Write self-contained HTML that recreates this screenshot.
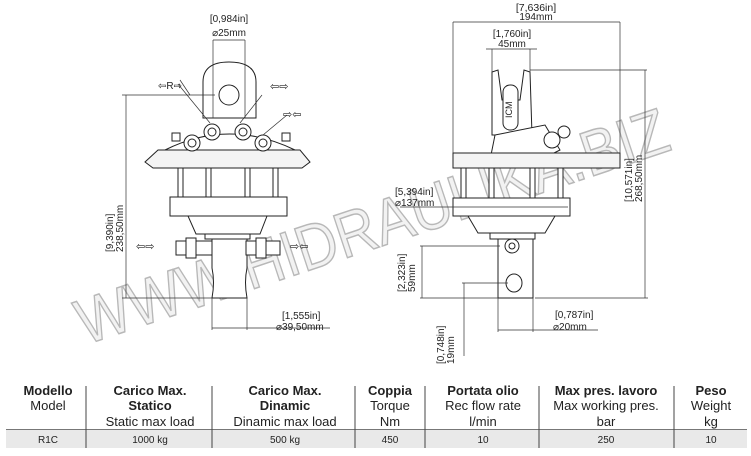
<!DOCTYPE html>
<html><head><meta charset="utf-8"><style>
body{margin:0;background:#fff;width:751px;height:456px;overflow:hidden;font-family:"Liberation Sans",sans-serif;}
svg{position:absolute;left:0;top:0}
</style></head><body>
<svg width="751" height="456" viewBox="0 0 751 456" font-family="Liberation Sans, sans-serif">
<text x="85" y="345" transform="rotate(-18.4 85 345)" font-size="64" textLength="620" lengthAdjust="spacingAndGlyphs" fill="#f2f2f2" stroke="#b8b8b8" stroke-width="1.5">WWW.HIDRAULIKA.BIZ</text>

<g stroke="#222" stroke-width="1" fill="#fff">
<path d="M203,118 L203,82 Q203,62 229,62 Q256,62 256,82 L256,118 Z"/>
<circle cx="229" cy="95" r="10"/>
<path d="M158,150 L300,150 L310,162 L302,168 L153,168 L145,162 Z" fill="#f4f4f4"/>
<path d="M165,150 Q229,118 295,150" fill="none"/>
<circle cx="192" cy="143" r="8"/><circle cx="192" cy="143" r="4"/>
<circle cx="212" cy="132" r="8"/><circle cx="212" cy="132" r="4"/>
<circle cx="243" cy="132" r="8"/><circle cx="243" cy="132" r="4"/>
<circle cx="263" cy="143" r="8"/><circle cx="263" cy="143" r="4"/>
<rect x="172" y="133" width="8" height="8"/><rect x="282" y="133" width="8" height="8"/>
<rect x="178" y="168" width="5" height="29"/><rect x="206" y="168" width="5" height="29"/>
<rect x="245" y="168" width="5" height="29"/><rect x="273" y="168" width="5" height="29"/>
<rect x="170" y="197" width="117" height="19"/>
<path d="M188,216 L267,216 L260,234 L196,234 Z"/>
<rect x="205" y="234" width="45" height="5"/>
<path d="M212,239 L247,239 L247,268 Q244,282 247,298 L212,298 Q215,282 212,268 Z"/>
<rect x="176" y="241" width="36" height="14"/><rect x="246" y="241" width="34" height="14"/>
<rect x="186" y="238" width="10" height="20"/><rect x="256" y="238" width="10" height="20"/>
<path d="M492,135 L492,72 L498,70 L502,100 L520,100 L524,70 L530,72 L532,135 Z"/>
<rect x="503" y="85" width="15" height="45" rx="7"/>
<path d="M495,135 L545,125 L560,150 L540,160 L490,160 Z"/>
<circle cx="552" cy="140" r="8"/><circle cx="564" cy="132" r="6"/>
<rect x="453" y="153" width="167" height="15" fill="#f4f4f4"/>
<rect x="461" y="168" width="5" height="30"/><rect x="489" y="168" width="5" height="30"/>
<rect x="530" y="168" width="5" height="30"/><rect x="558" y="168" width="5" height="30"/>
<rect x="453" y="198" width="117" height="18"/>
<path d="M468,216 L555,216 L545,233 L478,233 Z"/>
<rect x="490" y="233" width="45" height="6"/>
<rect x="498" y="239" width="35" height="59"/>
<circle cx="512" cy="246" r="7"/><circle cx="512" cy="246" r="3"/>
<ellipse cx="514" cy="283" rx="8" ry="9"/>
</g>

<g stroke="#333" stroke-width="0.7" fill="none">
<path d="M213,40 L245,40 M213,40 L213,118 M245,40 L245,118"/>
<path d="M126,95 L126,298 M122,95 L215,95 M122,298 L212,298"/>
<path d="M212,298 L212,330 M247,298 L247,330 M212,328 L330,328"/>
<path d="M453,22 L620,22 M453,22 L453,153 M620,22 L620,153"/>
<path d="M486,49 L537,49 M492,49 L492,72 M530,49 L530,72"/>
<path d="M530,70 L647,70 M645,70 L645,298 M535,298 L648,298"/>
<path d="M400,207 L568,207"/>
<path d="M420,246 L500,246 M422,246 L422,298 M420,298 L498,298"/>
<path d="M462,283 L508,283 M464,283 L464,356"/>
<path d="M498,298 L498,332 M533,298 L533,332 M498,330 L598,330"/>
<path d="M190,95 L180,80 M210,123 L178,84 M240,123 L262,95 M263,135 L287,115"/>
</g>
<g font-size="10" fill="#222">
<text x="229" y="22" text-anchor="middle">[0,984in]</text>
<text x="229" y="36" text-anchor="middle">⌀25mm</text>
<text x="536" y="11" text-anchor="middle" font-size="10.5">[7,636in]</text>
<text x="536" y="20" text-anchor="middle">194mm</text>
<text x="512" y="37" text-anchor="middle">[1,760in]</text>
<text x="512" y="47" text-anchor="middle">45mm</text>
<text x="395" y="195">[5,394in]</text><text x="395" y="206">⌀137mm</text>
<text x="282" y="319">[1,555in]</text><text x="276" y="330">⌀39,50mm</text>
<text x="555" y="318">[0,787in]</text><text x="553" y="330">⌀20mm</text>
<text transform="translate(113,252) rotate(-90)">[9,390in]</text>
<text transform="translate(123,252) rotate(-90)">238,50mm</text>
<text transform="translate(632,202) rotate(-90)">[10,571in]</text>
<text transform="translate(642,202) rotate(-90)">268,50mm</text>
<text transform="translate(405,292) rotate(-90)">[2,323in]</text>
<text transform="translate(415,292) rotate(-90)">59mm</text>
<text transform="translate(444,364) rotate(-90)">[0,748in]</text>
<text transform="translate(454,364) rotate(-90)">19mm</text>
<text x="158" y="89" font-size="10">⇦R⇨</text>
<text x="270" y="90" font-size="11">⇦⇨</text>
<text x="283" y="118" font-size="11">⇨⇦</text>
<text x="136" y="250" font-size="11">⇦⇨</text>
<text x="290" y="250" font-size="11">⇨⇦</text>
<text transform="translate(512,118) rotate(-90)" font-size="9">ICM</text>
</g>

<rect x="6" y="429" width="741" height="1" fill="#777"/>
<rect x="6" y="430" width="741" height="18" fill="#e9e9e9"/>

<g font-size="13" fill="#222" text-anchor="middle">
<g font-weight="bold">
<text x="48" y="395">Modello</text><text x="150" y="395">Carico Max.</text><text x="285" y="395">Carico Max.</text>
<text x="390" y="395">Coppia</text><text x="483" y="395">Portata olio</text><text x="606" y="395">Max pres. lavoro</text><text x="711" y="395">Peso</text>
<text x="150" y="410">Statico</text><text x="285" y="410">Dinamic</text>
</g>
<text x="48" y="410">Model</text><text x="390" y="410">Torque</text><text x="483" y="410">Rec flow rate</text><text x="606" y="410">Max working pres.</text><text x="711" y="410">Weight</text>
<text x="150" y="426">Static max load</text><text x="285" y="426">Dinamic max load</text><text x="390" y="426">Nm</text><text x="483" y="426">l/min</text><text x="606" y="426">bar</text><text x="711" y="426">kg</text>
</g>
<g stroke="#444" stroke-width="1">
<line x1="86" y1="386" x2="86" y2="448"/><line x1="212" y1="386" x2="212" y2="448"/>
<line x1="355" y1="386" x2="355" y2="448"/><line x1="425" y1="386" x2="425" y2="448"/>
<line x1="539" y1="386" x2="539" y2="448"/><line x1="674" y1="386" x2="674" y2="448"/>
</g>
<g font-size="10" fill="#222" text-anchor="middle">
<text x="48" y="443">R1C</text><text x="150" y="443">1000 kg</text><text x="285" y="443">500 kg</text>
<text x="390" y="443">450</text><text x="483" y="443">10</text><text x="606" y="443">250</text><text x="711" y="443">10</text>
</g>
</svg>
</body></html>
